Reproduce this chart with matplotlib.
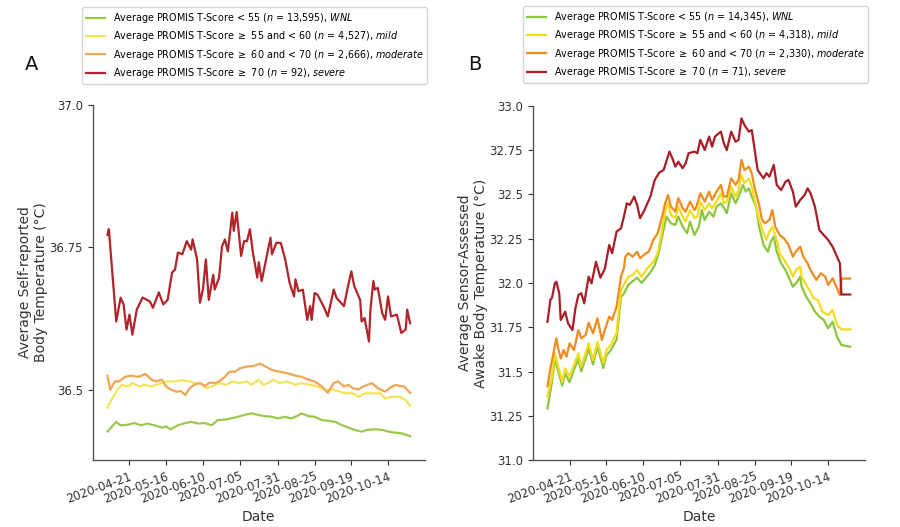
import matplotlib
matplotlib.use("Agg")
import matplotlib.pyplot as plt
import numpy as np
import pandas as pd

start_date = pd.Timestamp("2020-04-06")
tick_dates = ["2020-04-21", "2020-05-16", "2020-06-10", "2020-07-05",
              "2020-07-31", "2020-08-25", "2020-09-19", "2020-10-14"]

labels_a = [r"Average PROMIS T-Score < 55 ($\it{n}$ = 13,595), $\it{WNL}$",
            r"Average PROMIS T-Score $\geq$ 55 and < 60 ($\it{n}$ = 4,527), $\it{mild}$",
            r"Average PROMIS T-Score $\geq$ 60 and < 70 ($\it{n}$ = 2,666), $\it{moderate}$",
            r"Average PROMIS T-Score $\geq$ 70 ($\it{n}$ = 92), $\it{severe}$"]
labels_b = [r"Average PROMIS T-Score < 55 ($\it{n}$ = 14,345), $\it{WNL}$",
            r"Average PROMIS T-Score $\geq$ 55 and < 60 ($\it{n}$ = 4,318), $\it{mild}$",
            r"Average PROMIS T-Score $\geq$ 60 and < 70 ($\it{n}$ = 2,330), $\it{moderate}$",
            r"Average PROMIS T-Score $\geq$ 70 ($\it{n}$ = 71), $\it{severe}$"]

# ---------------- Panel A: self-reported ----------------
a_green_days = [0, 6, 9, 14, 18, 23, 27, 32, 37, 40, 43, 48, 53, 57, 62, 66, 71, 75, 80, 84,
                89, 93, 98, 103, 107, 112, 116, 121, 125, 129, 132, 137, 141, 146, 150, 155,
                159, 164, 168, 173, 177, 182, 187, 191, 196, 200, 206]
a_green_vals = [36.427, 36.444, 36.438, 36.439, 36.442, 36.438, 36.441, 36.438, 36.434, 36.436,
                36.431, 36.438, 36.442, 36.444, 36.441, 36.442, 36.438, 36.447, 36.448, 36.450,
                36.453, 36.456, 36.459, 36.456, 36.454, 36.453, 36.450, 36.453, 36.450, 36.454,
                36.459, 36.454, 36.453, 36.447, 36.446, 36.444, 36.439, 36.434, 36.430, 36.427,
                36.430, 36.431, 36.430, 36.427, 36.425, 36.424, 36.419]

a_yellow_days = [0, 4, 7, 10, 14, 17, 22, 25, 30, 33, 37, 40, 46, 50, 56, 59, 64, 67, 72, 76,
                 81, 85, 90, 95, 98, 103, 106, 109, 113, 117, 122, 128, 132, 138, 143, 148, 153,
                 157, 162, 166, 171, 175, 180, 186, 189, 194, 199, 203, 206]
a_yellow_vals = [36.469, 36.488, 36.501, 36.509, 36.506, 36.512, 36.506, 36.509, 36.506, 36.509,
                 36.512, 36.515, 36.515, 36.517, 36.515, 36.512, 36.512, 36.503, 36.507, 36.512,
                 36.509, 36.515, 36.512, 36.515, 36.509, 36.518, 36.509, 36.512, 36.518, 36.512,
                 36.515, 36.509, 36.512, 36.509, 36.506, 36.500, 36.501, 36.498, 36.494, 36.495,
                 36.488, 36.494, 36.494, 36.494, 36.485, 36.488, 36.488, 36.482, 36.472]

a_orange_days = [0, 2, 5, 8, 12, 16, 21, 26, 30, 33, 37, 40, 43, 47, 50, 53, 56, 59, 63, 66,
                 70, 73, 76, 80, 83, 87, 90, 95, 99, 104, 107, 112, 117, 123, 128, 132, 137,
                 141, 146, 150, 154, 157, 161, 164, 167, 171, 174, 180, 184, 189, 192, 196, 199,
                 202, 206]
a_orange_vals = [36.525, 36.500, 36.515, 36.515, 36.523, 36.525, 36.523, 36.528, 36.518, 36.515,
                 36.518, 36.506, 36.501, 36.497, 36.498, 36.491, 36.503, 36.509, 36.512, 36.507,
                 36.513, 36.512, 36.515, 36.523, 36.532, 36.532, 36.538, 36.541, 36.542, 36.546,
                 36.542, 36.535, 36.532, 36.529, 36.525, 36.523, 36.518, 36.515, 36.506, 36.495,
                 36.512, 36.515, 36.506, 36.509, 36.503, 36.501, 36.506, 36.512, 36.503, 36.497,
                 36.503, 36.509, 36.507, 36.506, 36.495]

a_red_days = [0, 1, 6, 9, 11, 13, 15, 17, 20, 24, 29, 31, 35, 38, 41, 44, 46, 48, 51, 54, 57,
              58, 61, 63, 65, 67, 69, 72, 73, 76, 78, 80, 82, 85, 86, 88, 91, 93, 95, 97, 99,
              102, 103, 105, 108, 111, 112, 115, 118, 121, 124, 127, 128, 130, 133, 136, 138,
              139, 141, 143, 147, 150, 154, 156, 161, 163, 166, 168, 172, 173, 175, 178, 179,
              181, 182, 184, 187, 189, 191, 193, 197, 200, 203, 204, 206]
a_red_vals = [36.772, 36.782, 36.620, 36.662, 36.650, 36.606, 36.632, 36.597, 36.641, 36.662,
              36.655, 36.644, 36.671, 36.650, 36.658, 36.706, 36.711, 36.741, 36.738, 36.761,
              36.746, 36.764, 36.729, 36.653, 36.676, 36.729, 36.658, 36.702, 36.676, 36.697,
              36.752, 36.764, 36.743, 36.811, 36.779, 36.812, 36.735, 36.761, 36.761, 36.782,
              36.741, 36.697, 36.724, 36.691, 36.729, 36.767, 36.738, 36.758, 36.758, 36.729,
              36.688, 36.664, 36.694, 36.673, 36.676, 36.623, 36.647, 36.623, 36.670, 36.667,
              36.647, 36.629, 36.676, 36.661, 36.647, 36.673, 36.708, 36.682, 36.658, 36.620,
              36.626, 36.585, 36.641, 36.691, 36.676, 36.679, 36.635, 36.623, 36.664, 36.629,
              36.632, 36.600, 36.606, 36.641, 36.617]

# ---------------- Panel B: sensor-assessed ----------------
b_green_days = [0, 3, 5, 7, 10, 12, 15, 18, 21, 23, 28, 31, 34, 38, 40, 43, 47, 50, 52, 55,
                58, 61, 64, 67, 70, 73, 76, 78, 81, 84, 87, 89, 92, 95, 97, 100, 103, 105, 107,
                110, 113, 115, 118, 121, 122, 125, 128, 130, 133, 135, 137, 139, 142, 144, 147,
                150, 152, 154, 156, 159, 162, 164, 167, 170, 172, 173, 176, 179, 182, 185, 188,
                191, 194, 197, 200, 206]
b_green_vals = [31.292, 31.44, 31.57, 31.51, 31.42, 31.49, 31.44, 31.51, 31.57, 31.50, 31.63,
                31.54, 31.64, 31.52, 31.59, 31.62, 31.68, 31.92, 31.94, 31.99, 32.01, 32.03,
                32.00, 32.03, 32.06, 32.10, 32.18, 32.262, 32.375, 32.337, 32.328, 32.375,
                32.318, 32.281, 32.347, 32.271, 32.318, 32.412, 32.356, 32.403, 32.375, 32.431,
                32.450, 32.412, 32.394, 32.507, 32.450, 32.488, 32.554, 32.516, 32.535, 32.488,
                32.431, 32.318, 32.215, 32.177, 32.234, 32.262, 32.177, 32.111, 32.073, 32.036,
                31.979, 32.007, 32.036, 31.979, 31.923, 31.885, 31.838, 31.810, 31.791, 31.744,
                31.781, 31.697, 31.650, 31.640]

b_yellow_days = [0, 3, 5, 7, 10, 12, 15, 18, 21, 23, 28, 31, 34, 38, 40, 43, 47, 50, 53, 55,
                 58, 61, 64, 67, 70, 72, 75, 78, 80, 82, 84, 87, 89, 92, 94, 97, 100, 102, 104,
                 107, 110, 112, 115, 118, 120, 122, 125, 128, 130, 132, 134, 137, 139, 141, 144,
                 147, 149, 151, 153, 156, 158, 161, 164, 167, 169, 172, 173, 176, 179, 181, 184,
                 187, 191, 194, 197, 200, 206]
b_yellow_vals = [31.358, 31.471, 31.603, 31.537, 31.442, 31.518, 31.471, 31.537, 31.603, 31.527,
                 31.659, 31.565, 31.669, 31.546, 31.621, 31.650, 31.716, 31.960, 32.007, 32.036,
                 32.045, 32.073, 32.036, 32.073, 32.102, 32.120, 32.168, 32.299, 32.403, 32.450,
                 32.384, 32.366, 32.431, 32.375, 32.347, 32.412, 32.366, 32.375, 32.460, 32.412,
                 32.450, 32.422, 32.460, 32.507, 32.450, 32.460, 32.544, 32.488, 32.525, 32.610,
                 32.563, 32.591, 32.544, 32.469, 32.356, 32.281, 32.243, 32.290, 32.318, 32.243,
                 32.168, 32.130, 32.092, 32.036, 32.073, 32.092, 32.036, 31.989, 31.951, 31.914,
                 31.904, 31.838, 31.819, 31.847, 31.763, 31.738, 31.738]

b_orange_days = [0, 2, 6, 7, 9, 11, 13, 15, 18, 21, 23, 26, 28, 31, 34, 37, 39, 42, 44, 47,
                 50, 52, 53, 55, 58, 61, 63, 67, 69, 72, 75, 78, 80, 82, 84, 87, 89, 92, 94, 97,
                 100, 101, 104, 107, 110, 112, 115, 118, 120, 122, 125, 128, 130, 132, 134, 137,
                 139, 141, 144, 146, 148, 151, 153, 155, 158, 161, 164, 167, 169, 172, 174, 177,
                 179, 183, 186, 189, 191, 194, 197, 199, 200, 206]
b_orange_vals = [31.418, 31.518, 31.688, 31.640, 31.574, 31.621, 31.584, 31.659, 31.621, 31.734,
                 31.688, 31.706, 31.776, 31.716, 31.801, 31.678, 31.734, 31.810, 31.791, 31.866,
                 32.036, 32.083, 32.149, 32.168, 32.149, 32.177, 32.140, 32.168, 32.177, 32.243,
                 32.281, 32.375, 32.450, 32.497, 32.431, 32.403, 32.479, 32.422, 32.403, 32.460,
                 32.412, 32.422, 32.507, 32.460, 32.516, 32.469, 32.516, 32.554, 32.488, 32.488,
                 32.591, 32.554, 32.582, 32.695, 32.638, 32.657, 32.620, 32.535, 32.441, 32.356,
                 32.337, 32.356, 32.412, 32.318, 32.271, 32.252, 32.215, 32.149, 32.177, 32.205,
                 32.149, 32.111, 32.073, 32.017, 32.055, 32.036, 31.989, 32.027, 31.970, 31.930,
                 32.025, 32.025]

b_red_days = [0, 2, 3, 5, 6, 8, 9, 12, 14, 17, 19, 21, 23, 25, 28, 30, 33, 36, 39, 42, 44,
              47, 50, 52, 54, 56, 59, 61, 63, 66, 70, 73, 76, 79, 83, 85, 87, 89, 92, 94, 96,
              100, 102, 104, 107, 110, 112, 114, 118, 120, 122, 125, 128, 130, 132, 134, 137,
              139, 141, 143, 147, 149, 151, 154, 156, 159, 162, 164, 167, 169, 172, 175, 177,
              179, 182, 185, 188, 191, 194, 197, 199, 200, 206]
b_red_vals = [31.781, 31.908, 31.914, 31.998, 32.007, 31.942, 31.791, 31.838, 31.772, 31.734,
              31.857, 31.932, 31.942, 31.885, 32.036, 31.998, 32.120, 32.030, 32.080, 32.215,
              32.168, 32.290, 32.309, 32.375, 32.450, 32.441, 32.488, 32.441, 32.366, 32.412,
              32.488, 32.582, 32.623, 32.638, 32.742, 32.704, 32.657, 32.685, 32.648, 32.676,
              32.733, 32.742, 32.733, 32.808, 32.751, 32.827, 32.770, 32.827, 32.855, 32.789,
              32.751, 32.855, 32.798, 32.808, 32.930, 32.893, 32.855, 32.864, 32.751, 32.638,
              32.591, 32.620, 32.601, 32.667, 32.554, 32.525, 32.572, 32.582, 32.516, 32.431,
              32.469, 32.497, 32.535, 32.507, 32.431, 32.299, 32.271, 32.243, 32.205, 32.149,
              32.111, 31.935, 31.935]

colors_a = ["#9cc84e", "#f4e45a", "#f0a655", "#b0242a"]
colors_b = ["#8cc63f", "#f2dc1c", "#f08c1e", "#a81e26"]

a_ticks = [36.5, 36.75, 37.0]
a_ticklabels = ["36.5", "36.75", "37.0"]
b_ticks = [31.0, 31.25, 31.5, 31.75, 32.0, 32.25, 32.5, 32.75, 33.0]
b_ticklabels = ["31.0", "31.25", "31.5", "31.75", "32.0", "32.25", "32.5", "32.75", "33.0"]

txt = "#333333"
plt.rcParams["font.family"] = ["DejaVu Sans"]

fig = plt.figure(figsize=(9, 5.27), dpi=100)
axA = fig.add_axes([0.103, 0.127, 0.369, 0.674])
axB = fig.add_axes([0.592, 0.127, 0.369, 0.672])

def to_dates(days):
    return [start_date + pd.Timedelta(days=int(d)) for d in days]

seriesA = [(a_green_days, a_green_vals), (a_yellow_days, a_yellow_vals),
           (a_orange_days, a_orange_vals), (a_red_days, a_red_vals)]
seriesB = [(b_green_days, b_green_vals), (b_yellow_days, b_yellow_vals),
           (b_orange_days, b_orange_vals), (b_red_days, b_red_vals)]

for ax, series, cols, labels, ticks, tlabels, ylim, ylabel in [
        (axA, seriesA, colors_a, labels_a, a_ticks, a_ticklabels, (36.377, 37.0),
         "Average Self-reported\nBody Temperature (°C)"),
        (axB, seriesB, colors_b, labels_b, b_ticks, b_ticklabels, (31.0, 33.0),
         "Average Sensor-Assessed\nAwake Body Temperature (°C)")]:
    for (d, v), c, lab in zip(series, cols, labels):
        ax.plot(to_dates(d), v, color=c, lw=1.6, label=lab)
    ax.set_ylim(*ylim)
    ax.set_yticks(ticks)
    ax.set_yticklabels(tlabels)
    ax.set_xlim(pd.Timestamp("2020-03-27"), pd.Timestamp("2020-11-08"))
    ax.set_xticks([pd.Timestamp(t) for t in tick_dates])
    ax.set_xticklabels(tick_dates, rotation=20, ha="right", rotation_mode="anchor")
    ax.tick_params(axis="both", labelsize=8.5, colors=txt, length=3.5)
    for s in ["top", "right"]:
        ax.spines[s].set_visible(False)
    for s in ["left", "bottom"]:
        ax.spines[s].set_color("#555555")
        ax.spines[s].set_linewidth(1.0)
    ax.set_xlabel("Date", fontsize=10, color=txt, labelpad=3)
    ax.set_ylabel(ylabel, fontsize=10, color=txt, labelpad=1)

leg_kw = dict(loc="lower left", bbox_transform=fig.transFigure, fontsize=6.9, frameon=True,
              handlelength=2.0, borderaxespad=0, labelspacing=0.45)
axA.legend(bbox_to_anchor=(0.091, 0.841), **leg_kw)
axB.legend(bbox_to_anchor=(0.581, 0.843), **leg_kw)

fig.text(25/900, 1 - 65/527, "A", fontsize=14, color="#111111", va="center", ha="left")
fig.text(468/900, 1 - 65/527, "B", fontsize=14, color="#111111", va="center", ha="left")

fig.savefig("out.png", dpi=100)
